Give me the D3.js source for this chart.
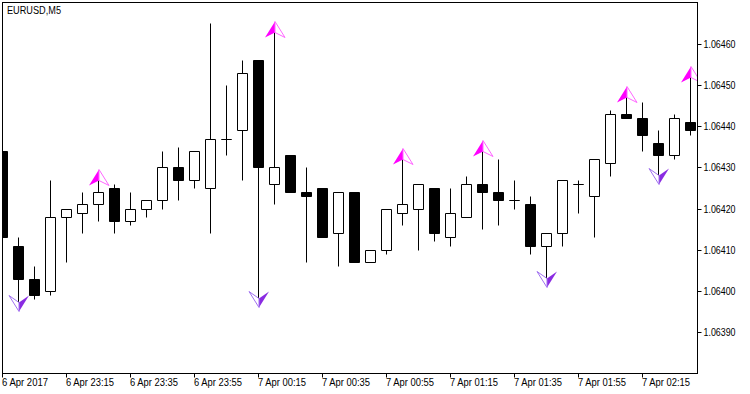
<!DOCTYPE html>
<html>
<head>
<meta charset="utf-8">
<script src="https://cdn.jsdelivr.net/npm/d3@7"></script>
<style>
  html, body { margin: 0; padding: 0; background: #fff; }
  svg { display: block; }
  text { font-family: "Liberation Sans", sans-serif; font-size: 10px; fill: #000; }
</style>
</head>
<body>
<div id="chart"></div>
<script>
const open_ = [1.06434,1.06411,1.06403,1.06400,1.06418,1.06419,1.06421,1.06425,1.06417,1.06420,1.06422,1.06430,1.06427,1.06425,1.06437,1.06439,1.06456,1.06426,1.06433,1.06424,1.06425,1.06414,1.06424,1.06407,1.06410,1.06419,1.06420,1.06425,1.06413,1.06418,1.06426,1.06424,1.06422,1.06421,1.06411,1.06414,1.06426,1.06423,1.06431,1.06443,1.06442,1.06436,1.06433,1.06441];
const high = [1.06434,1.06413,1.06406,1.06427,1.06420,1.06424,1.06427,1.06426,1.06424,1.06422,1.06434,1.06435,1.06434,1.06465,1.06450,1.06456,1.06456,1.06463,1.06433,1.06430,1.06425,1.06424,1.06424,1.06410,1.06420,1.06432,1.06426,1.06425,1.06425,1.06428,1.06434,1.06432,1.06427,1.06423,1.06414,1.06427,1.06427,1.06432,1.06444,1.06447,1.06446,1.06439,1.06443,1.06452];
const low = [1.06413,1.06397,1.06398,1.06399,1.06407,1.06414,1.06417,1.06414,1.06416,1.06418,1.06420,1.06422,1.06425,1.06414,1.06433,1.06427,1.06398,1.06421,1.06424,1.06407,1.06413,1.06406,1.06407,1.06407,1.06409,1.06416,1.06410,1.06412,1.06411,1.06418,1.06415,1.06416,1.06420,1.06409,1.06403,1.06411,1.06419,1.06413,1.06428,1.06442,1.06434,1.06428,1.06432,1.06438];
const close_ = [1.06413,1.06403,1.06399,1.06418,1.06420,1.06421,1.06424,1.06417,1.06420,1.06422,1.06430,1.06427,1.06434,1.06437,1.06437,1.06453,1.06430,1.06430,1.06424,1.06423,1.06413,1.06424,1.06407,1.06410,1.06420,1.06421,1.06426,1.06414,1.06419,1.06426,1.06424,1.06422,1.06422,1.06411,1.06414,1.06427,1.06426,1.06432,1.06443,1.06442,1.06438,1.06433,1.06442,1.06439];

const upSignals = [6, 17, 25, 30, 39, 43];
const downSignals = [1, 16, 34, 41];

const timeLabels = ["6 Apr 2017","6 Apr 23:15","6 Apr 23:35","6 Apr 23:55","7 Apr 00:15","7 Apr 00:35","7 Apr 00:55","7 Apr 01:15","7 Apr 01:35","7 Apr 01:55","7 Apr 02:15"];
const priceTicks = [1.0639,1.0640,1.0641,1.0642,1.0643,1.0644,1.0645,1.0646];

const width = 750, height = 394;
const frame = { left: 2.5, right: 697.5, top: 2.5, bottom: 373.5 };

const svg = d3.select("#chart").append("svg")
    .attr("width", width)
    .attr("height", height);

const x = d3.scaleLinear()
    .domain([0, open_.length - 1])
    .range([2.5, 690.5]);

const y = d3.scaleLinear()
    .domain([1.0639, 1.0646])
    .range([332.5, 44.5]);

// snap to the pixel row so the 1px lines stay sharp
const py = v => Math.floor(y(v)) + 0.5;

svg.append("defs").append("clipPath").attr("id", "plot")
    .append("rect")
    .attr("x", frame.left)
    .attr("y", frame.top)
    .attr("width", frame.right - frame.left)
    .attr("height", frame.bottom - frame.top);

const plot = svg.append("g").attr("clip-path", "url(#plot)");

const idx = d3.range(open_.length);

// wicks
plot.append("g").selectAll("line")
    .data(idx)
    .join("line")
    .attr("x1", i => x(i))
    .attr("x2", i => x(i))
    .attr("y1", i => py(high[i]))
    .attr("y2", i => py(low[i]))
    .attr("stroke", "#000");

// bodies as paths, a rect with no height would not draw the doji candles
plot.append("g").selectAll("path")
    .data(idx)
    .join("path")
    .attr("d", i => {
        const top = Math.min(py(open_[i]), py(close_[i]));
        const bottom = Math.max(py(open_[i]), py(close_[i]));
        return `M${x(i) - 5},${top}H${x(i) + 5}V${bottom}H${x(i) - 5}Z`;
    })
    .attr("fill", i => close_[i] < open_[i] ? "#000" : "#fff")
    .attr("stroke", "#000");

// signal arrows: filled half and outlined half
const upArrow = plot.append("g").selectAll("g")
    .data(upSignals)
    .join("g")
    .attr("transform", i => `translate(${x(i) + 0.5},${py(high[i])})`);

upArrow.append("path")
    .attr("d", "M0,-11 L-10,5 L0,0 Z")
    .attr("fill", "#ff00ff");
upArrow.append("path")
    .attr("d", "M0,-11 L10,5 L0,0 Z")
    .attr("fill", "#fff")
    .attr("stroke", "#ff66ff");

const downArrow = plot.append("g").selectAll("g")
    .data(downSignals)
    .join("g")
    .attr("transform", i => `translate(${x(i) + 0.5},${py(low[i])})`);

downArrow.append("path")
    .attr("d", "M0,8 L10,-8 L0,-1 Z")
    .attr("fill", "#8a2be2");
downArrow.append("path")
    .attr("d", "M0,8 L-10,-8 L0,-1 Z")
    .attr("fill", "#fff")
    .attr("stroke", "#a070f0");

// frame
svg.append("rect")
    .attr("x", frame.left)
    .attr("y", frame.top)
    .attr("width", frame.right - frame.left)
    .attr("height", frame.bottom - frame.top)
    .attr("fill", "none")
    .attr("stroke", "#000");

// axes
const xAxis = d3.axisBottom(x)
    .tickValues(timeLabels.map((d, i) => i * 4))
    .tickFormat(d => timeLabels[d / 4])
    .tickSize(4)
    .offset(0);

const xg = svg.append("g")
    .attr("transform", `translate(0,${frame.bottom})`)
    .call(xAxis);
xg.select(".domain").remove();
xg.selectAll("text")
    .attr("text-anchor", "start")
    .attr("x", -0.5)
    .attr("y", 5)
    .attr("dy", "0.71em")
    .attr("textLength", (d, i) => i === 0 ? 46 : 48)
    .attr("lengthAdjust", "spacingAndGlyphs");

const yAxis = d3.axisRight(y)
    .tickValues(priceTicks)
    .tickFormat(d3.format(".5f"))
    .tickSize(4)
    .offset(0);

const yg = svg.append("g")
    .attr("transform", `translate(${frame.right},0)`)
    .call(yAxis);
yg.select(".domain").remove();
yg.selectAll(".tick").attr("transform", d => `translate(0,${py(d)})`);
yg.selectAll("text")
    .attr("x", 6)
    .attr("textLength", 32)
    .attr("lengthAdjust", "spacingAndGlyphs");

svg.append("text")
    .attr("x", 7)
    .attr("y", 14)
    .attr("textLength", 54)
    .attr("lengthAdjust", "spacingAndGlyphs")
    .text("EURUSD,M5");
</script>
</body>
</html>
